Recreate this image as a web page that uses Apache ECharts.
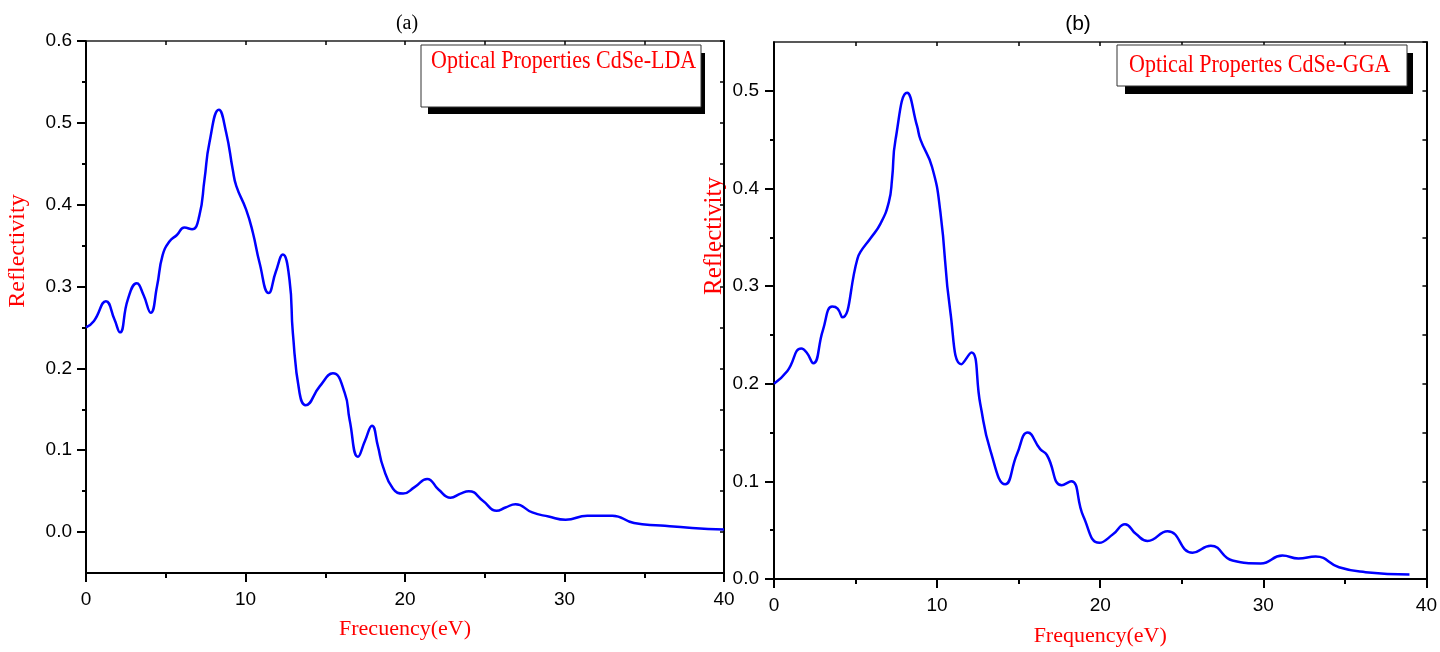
<!DOCTYPE html>
<html>
<head>
<meta charset="utf-8">
<script src="https://cdn.jsdelivr.net/npm/echarts@6/dist/echarts.min.js"></script>
<style>
  html, body { margin: 0; padding: 0; background: #fff; }
  #chart { width: 1440px; height: 652px; }
</style>
</head>
<body>
<div id="chart"></div>
<script>
// (a) CdSe LDA: energy (eV) and reflectivity
const ldaEnergy = [0, 0.5, 1.25, 1.78, 2.13, 2.62, 3.18, 3.6, 4.06, 4.45, 4.8, 5.23, 5.7, 6.17, 6.65, 7.1, 7.43, 7.74, 8.33, 8.79, 9.2, 9.42, 10.04, 10.46, 10.88, 11.45, 11.9, 12.34, 12.76, 12.97, 13.39, 13.77, 14.65, 15.48, 16.22, 16.53, 17.05, 17.5, 17.93, 18.3, 18.62, 19.25, 19.88, 20.6, 21.39, 22.1, 22.85, 23.48, 24.0, 24.9, 25.74, 26.3, 26.93, 27.98, 29.0, 30.07, 31.43, 33.0, 34.36, 36.03, 38.0, 40.0]
const ldaRefl = [0.250, 0.258, 0.282, 0.260, 0.244, 0.284, 0.304, 0.290, 0.268, 0.300, 0.338, 0.355, 0.363, 0.372, 0.370, 0.386, 0.431, 0.476, 0.516, 0.488, 0.443, 0.423, 0.394, 0.366, 0.329, 0.292, 0.318, 0.339, 0.308, 0.243, 0.170, 0.155, 0.178, 0.194, 0.170, 0.137, 0.092, 0.112, 0.130, 0.105, 0.080, 0.053, 0.047, 0.055, 0.065, 0.052, 0.042, 0.047, 0.050, 0.038, 0.026, 0.030, 0.034, 0.024, 0.019, 0.015, 0.020, 0.020, 0.011, 0.008, 0.005, 0.003]

// (b) CdSe GGA
const ggaEnergy = [0, 0.82, 1.67, 2.0, 2.41, 3.0, 3.57, 3.9, 4.18, 5.1, 5.3, 5.92, 6.53, 7.04, 7.24, 7.45, 8.16, 8.77, 8.98, 9.69, 10.2, 10.81, 11.49, 12.1, 12.65, 13.26, 14.18, 14.9, 15.56, 16.32, 16.73, 17.64, 18.22, 18.97, 19.95, 20.8, 21.52, 22.2, 22.9, 24.13, 25.66, 26.78, 28.11, 29.84, 31.17, 32.15, 33.21, 34.64, 36.27, 38.96]
const ggaRefl = [0.200, 0.213, 0.236, 0.232, 0.221, 0.255, 0.279, 0.277, 0.268, 0.327, 0.335, 0.349, 0.364, 0.386, 0.410, 0.450, 0.498, 0.464, 0.450, 0.422, 0.376, 0.274, 0.220, 0.232, 0.179, 0.132, 0.097, 0.128, 0.150, 0.133, 0.127, 0.096, 0.100, 0.064, 0.037, 0.046, 0.056, 0.046, 0.039, 0.049, 0.027, 0.034, 0.019, 0.016, 0.024, 0.021, 0.023, 0.012, 0.007, 0.0045]

// tick labels
const xMajor = [0, 10, 20, 30, 40]
const xMinor = [5, 15, 25, 35]
const xAll = [0, 5, 10, 15, 20, 25, 30, 35, 40]
const ldaYMajor = [0, 0.1, 0.2, 0.3, 0.4, 0.5, 0.6]
const ldaYMinor = [0.05, 0.15, 0.25, 0.35, 0.45, 0.55]
const ldaYAll = [-0.05, 0, 0.05, 0.1, 0.15, 0.2, 0.25, 0.3, 0.35, 0.4, 0.45, 0.5, 0.55, 0.6]
const ggaYMajor = [0, 0.1, 0.2, 0.3, 0.4, 0.5]
const ggaYMinor = [0.05, 0.15, 0.25, 0.35, 0.45]
const ggaYAll = [0, 0.05, 0.1, 0.15, 0.2, 0.25, 0.3, 0.35, 0.4, 0.45, 0.5, 0.55]

const sans = 'Liberation Sans'
const serif = 'Liberation Serif'
const black = '#000'

const pairs = (xs, ys) => xs.map((x, i) => [x, ys[i]])

// bottom axis with major ticks + labels
const bottomMajor = (grid, gap, name) => ({
  type: 'value', gridIndex: grid, position: 'bottom', min: 0, max: 40,
  name: name, nameLocation: 'middle', nameGap: gap,
  nameTextStyle: { fontFamily: serif, fontSize: 22, color: '#ff0000', verticalAlign: 'top' },
  axisLine: { show: true, onZero: false, lineStyle: { color: black, width: 2 } },
  axisTick: { show: true, customValues: xMajor, length: 9, lineStyle: { color: black, width: 2 } },
  axisLabel: { show: true, customValues: xMajor, margin: 17, fontFamily: sans, fontSize: 19, color: black },
  splitLine: { show: false }
})
const bottomMinor = (grid) => ({
  type: 'value', gridIndex: grid, position: 'bottom', min: 0, max: 40,
  axisLine: { show: false, onZero: false },
  axisTick: { show: true, customValues: xMinor, length: 5, lineStyle: { color: black, width: 2 } },
  axisLabel: { show: false },
  splitLine: { show: false }
})
const topFrame = (grid) => ({
  type: 'value', gridIndex: grid, position: 'top', min: 0, max: 40,
  axisLine: { show: true, onZero: false, lineStyle: { color: '#222', width: 1.5 } },
  axisTick: { show: true, inside: true, customValues: xAll, length: 4, lineStyle: { color: black, width: 1.5 } },
  axisLabel: { show: false },
  splitLine: { show: false }
})
const leftMajor = (grid, min, max, major, margin) => ({
  type: 'value', gridIndex: grid, position: 'left', min: min, max: max,
  axisLine: { show: true, onZero: false, lineStyle: { color: black, width: 2 } },
  axisTick: { show: true, customValues: major, length: 9, lineStyle: { color: black, width: 2 } },
  axisLabel: { show: true, customValues: major, margin: margin, fontFamily: sans, fontSize: 19, color: black,
    formatter: v => v.toFixed(1) },
  splitLine: { show: false }
})
const leftMinor = (grid, min, max, minor) => ({
  type: 'value', gridIndex: grid, position: 'left', min: min, max: max,
  axisLine: { show: false, onZero: false },
  axisTick: { show: true, customValues: minor, length: 4, lineStyle: { color: black, width: 2 } },
  axisLabel: { show: false },
  splitLine: { show: false }
})
const rightFrame = (grid, min, max, all) => ({
  type: 'value', gridIndex: grid, position: 'right', min: min, max: max,
  axisLine: { show: true, onZero: false, lineStyle: { color: black, width: 2 } },
  axisTick: { show: true, inside: true, customValues: all, length: 4, lineStyle: { color: black, width: 1.5 } },
  axisLabel: { show: false },
  splitLine: { show: false }
})

const chart = echarts.init(document.getElementById('chart'))

const option = {
  backgroundColor: '#fff',
  animation: false,
  grid: [
    { left: 86, top: 41, width: 638, height: 532 },
    { left: 774, top: 42, width: 654, height: 541 }
  ],
  xAxis: [
    bottomMajor(0, 45, 'Frecuency(eV)'),
    bottomMinor(0),
    topFrame(0),
    bottomMajor(1, 46, 'Frequency(eV)'),
    bottomMinor(1),
    topFrame(1)
  ],
  yAxis: [
    leftMajor(0, -0.05, 0.6, ldaYMajor, 14),
    leftMinor(0, -0.05, 0.6, ldaYMinor),
    rightFrame(0, -0.05, 0.6, ldaYAll),
    leftMajor(1, 0, 0.55, ggaYMajor, 15),
    leftMinor(1, 0, 0.55, ggaYMinor),
    rightFrame(1, 0, 0.55, ggaYAll)
  ],
  series: [
    {
      name: 'CdSe-LDA',
      type: 'line',
      xAxisIndex: 0,
      yAxisIndex: 0,
      data: pairs(ldaEnergy, ldaRefl),
      smooth: 0.5,
      symbol: 'none',
      lineStyle: { color: '#0000ff', width: 2.5 }
    },
    {
      name: 'CdSe-GGA',
      type: 'line',
      xAxisIndex: 3,
      yAxisIndex: 3,
      data: pairs(ggaEnergy, ggaRefl),
      smooth: 0.5,
      symbol: 'none',
      lineStyle: { color: '#0000ff', width: 2.5 }
    }
  ],
  graphic: [
    // panel titles
    { type: 'text', x: 407, y: 24, style: { text: '(a)', font: '20px "Liberation Serif"', fill: black, align: 'center', verticalAlign: 'middle' } },
    { type: 'text', x: 1078, y: 24, style: { text: '(b)', font: '21px "Liberation Sans"', fill: black, align: 'center', verticalAlign: 'middle' } },
    // y titles
    { type: 'text', x: 18, y: 251, rotation: Math.PI / 2, style: { text: 'Reflectivity', font: '24px "Liberation Serif"', fill: '#ff0000', align: 'center', verticalAlign: 'middle' } },
    { type: 'text', x: 714, y: 236, rotation: Math.PI / 2, style: { text: 'Reflectivity', font: '25px "Liberation Serif"', fill: '#ff0000', align: 'center', verticalAlign: 'middle' } },
    // legend box (a)
    { type: 'rect', z: 100, shape: { x: 428, y: 53, width: 277, height: 61 }, style: { fill: black } },
    { type: 'rect', z: 101, shape: { x: 421, y: 45, width: 280, height: 62 }, style: { fill: '#fff', stroke: '#333', lineWidth: 1 } },
    { type: 'text', z: 102, x: 431, y: 62, scaleY: 1.1, style: { text: 'Optical Properties CdSe-LDA', font: '22px "Liberation Serif"', fill: '#ff0000', align: 'left', verticalAlign: 'middle' } },
    // legend box (b)
    { type: 'rect', z: 100, shape: { x: 1125, y: 53, width: 288, height: 41 }, style: { fill: black } },
    { type: 'rect', z: 101, shape: { x: 1117, y: 45, width: 290, height: 41 }, style: { fill: '#fff', stroke: '#333', lineWidth: 1 } },
    { type: 'text', z: 102, x: 1129, y: 66, scaleY: 1.1, style: { text: 'Optical Propertes CdSe-GGA', font: '22px "Liberation Serif"', fill: '#ff0000', align: 'left', verticalAlign: 'middle' } }
  ]
}

chart.setOption(option)
window.addEventListener('resize', () => chart.resize())
</script>
</body>
</html>
